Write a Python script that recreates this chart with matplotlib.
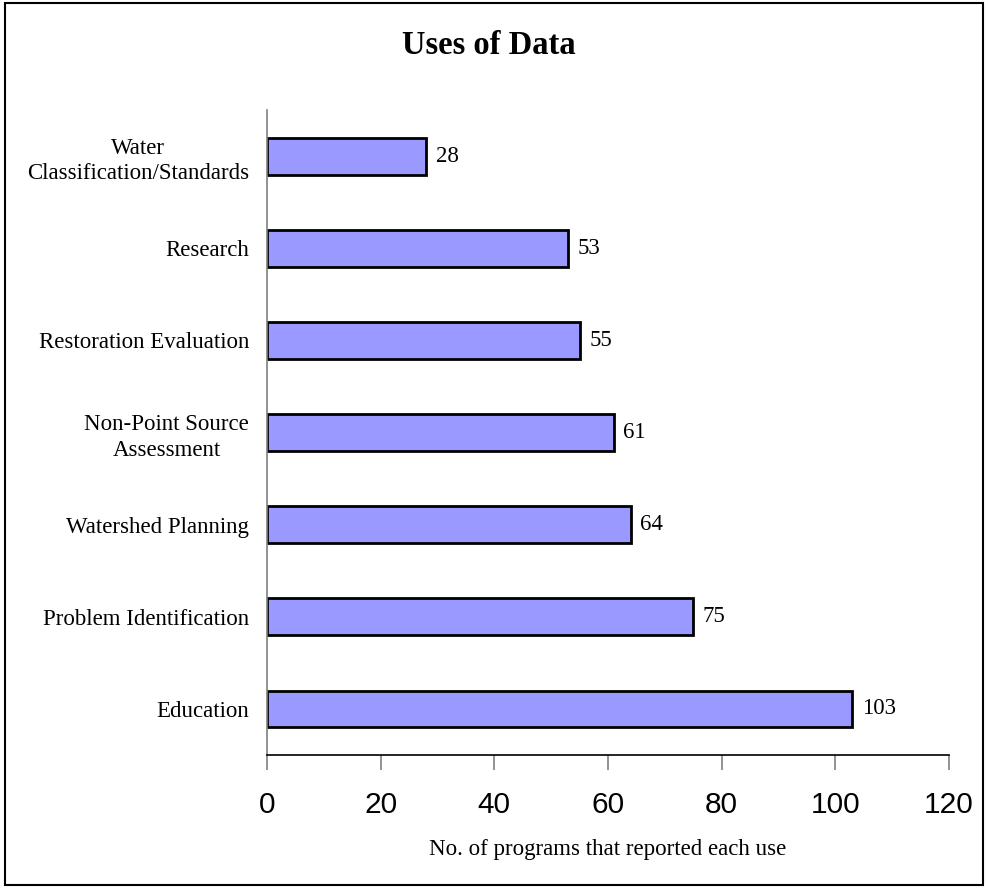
import matplotlib.pyplot as plt
from matplotlib.patches import Rectangle

# data (top to bottom in picture)
categories = ['Water\nClassification/Standards', 'Research', 'Restoration Evaluation',
              'Non-Point Source\nAssessment', 'Watershed Planning',
              'Problem Identification', 'Education']
counts = [28, 53, 55, 61, 64, 75, 103]
xticks = [0, 20, 40, 60, 80, 100, 120]

serif = ['Liberation Serif', 'DejaVu Serif']
sans = ['Liberation Sans', 'DejaVu Sans']

fig = plt.figure(figsize=(9.88, 8.9), dpi=100)
ax = fig.add_axes([267 / 988, 135 / 890, 682 / 988, 645 / 890])

# bars drawn bottom-up so Education sits at the bottom
cats = categories[::-1]
vals = counts[::-1]
ypos = list(range(len(cats)))
ax.barh(ypos, vals, height=0.4, color='#9999ff', edgecolor='black', linewidth=2)

for y, v in zip(ypos, vals):
    ax.text(v + 1.7, y, str(v), va='center', ha='left', fontsize=16.5, family=serif)

ax.set_xlim(0, 120)
ax.set_ylim(-0.5, 6.5)
ax.set_xticks(xticks)
ax.set_xticklabels([str(t) for t in xticks], fontsize=21.5, family=sans)
ax.set_yticks(ypos)
ax.set_yticklabels(cats, fontsize=16.5, family=serif, linespacing=1.3,
                   multialignment='center')
ax.tick_params(axis='y', length=0, pad=13)
ax.tick_params(axis='x', direction='out', length=11, width=1.2, color='#808080', pad=15)

ax.spines['top'].set_visible(False)
ax.spines['right'].set_visible(False)
ax.spines['left'].set_color('#808080')
ax.spines['left'].set_linewidth(1.2)
ax.spines['bottom'].set_color('black')
ax.spines['bottom'].set_linewidth(1.2)

ax.set_xlabel('No. of programs that reported each use', fontsize=16.5, family=serif, labelpad=14)

fig.text(489 / 988, 1 - 46 / 890, 'Uses of Data', ha='center', va='center',
         fontsize=23.5, fontweight='bold', family=serif)

# outer frame
fig.patches.append(Rectangle((5 / 988, 5 / 890), 978 / 988, 882 / 890,
                             transform=fig.transFigure, fill=False,
                             edgecolor='black', linewidth=1.5))

fig.savefig('out.png', dpi=100)
